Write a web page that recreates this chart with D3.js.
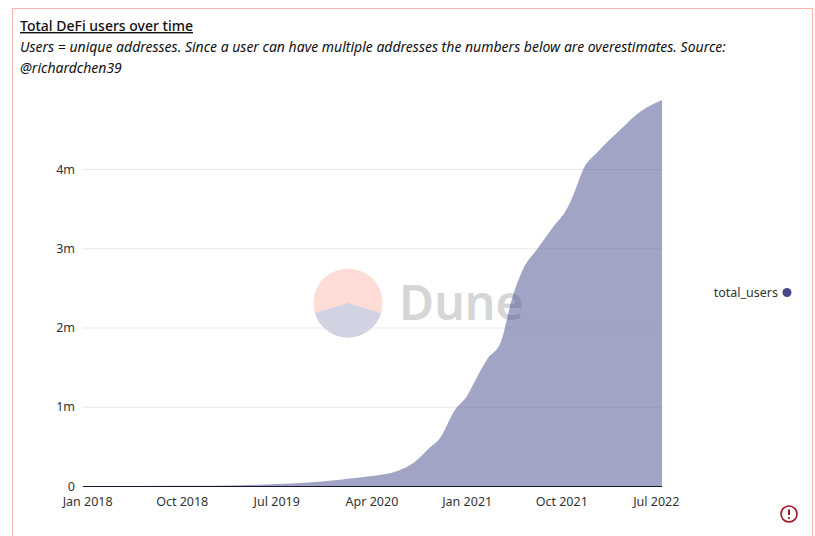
<!DOCTYPE html>
<html>
<head>
<meta charset="utf-8">
<script src="https://cdnjs.cloudflare.com/ajax/libs/d3/7.8.5/d3.min.js"></script>
<style>
  html, body { margin: 0; padding: 0; background: #fff; overflow: hidden; }
  text { font-family: "Noto Sans", sans-serif; }
  .tick line, .domain { display: none; }
  .axis text { font-size: 12.5px; fill: #333; }
</style>
</head>
<body>
<svg id="chart" width="815" height="536"></svg>
<script>
// date / total users in millions
var dates = ["2017-12-20","2018-06-01","2019-01-01","2019-03-15","2019-07-01","2019-10-01","2020-01-01","2020-04-01",
  "2020-06-15","2020-08-03","2020-09-15","2020-10-15","2020-11-28","2021-01-01","2021-02-03","2021-03-01","2021-04-10",
  "2021-05-13","2021-06-12","2021-07-22","2021-09-06","2021-10-19","2021-11-10","2021-12-03","2022-01-13","2022-03-19",
  "2022-05-16","2022-07-19"];
var totalUsers = [0,0.001,0.003,0.008,0.025,0.045,0.08,0.125,
  0.19,0.30,0.48,0.60,0.96,1.13,1.40,1.60,1.82,
  2.38,2.73,2.98,3.26,3.51,3.73,3.99,4.21,4.49,
  4.72,4.87];
var xTickDates = ["2018-01-01","2018-10-01","2019-07-01","2020-04-01","2021-01-01","2021-10-01","2022-07-01"];
var xTickLabels = ["Jan 2018","Oct 2018","Jul 2019","Apr 2020","Jan 2021","Oct 2021","Jul 2022"];
var yTicks = [0,1,2,3,4];
var yTickLabels = ["0","1m","2m","3m","4m"];

var parseDate = d3.timeParse("%Y-%m-%d");
var points = dates.map(function(d, i){ return {date: parseDate(d), users: totalUsers[i]}; });

var svg = d3.select("#chart");

// card border, runs off the bottom of the window
svg.append("rect")
  .attr("x", 12.5).attr("y", 8.5).attr("width", 800).attr("height", 560)
  .attr("fill", "#fff").attr("stroke", "#ffb3ad");

svg.append("text").attr("x", 20).attr("y", 31)
  .style("font-size", "14px").style("font-weight", 500).style("text-decoration", "underline").attr("fill", "#111")
  .text("Total DeFi users over time");
var subtitle = svg.append("text").style("font-size", "14px").style("font-style", "italic").attr("fill", "#111");
subtitle.append("tspan").attr("x", 20).attr("y", 52)
  .text("Users = unique addresses. Since a user can have multiple addresses the numbers below are overestimates. Source:");
subtitle.append("tspan").attr("x", 20).attr("y", 73).text("@richardchen39");

var x = d3.scaleTime().domain([parseDate(dates[0]), parseDate(dates[dates.length - 1])]).range([83, 662]);
var y = d3.scaleLinear().domain([0, 4]).range([486, 169]);

// gridlines
svg.append("g").selectAll("line")
  .data(yTicks.slice(1)).enter().append("line")
  .attr("x1", 83).attr("x2", 662)
  .attr("y1", function(d){ return y(d) + 0.5; })
  .attr("y2", function(d){ return y(d) + 0.5; })
  .attr("stroke", "#e9e9ec");

// watermark
var logo = svg.append("g").attr("transform", "translate(348,303)");
logo.append("circle").attr("r", 34.5).attr("fill", "#ffdcd6");
logo.append("path").attr("d", d3.arc()({innerRadius: 0, outerRadius: 34.5, startAngle: 1.87, endAngle: 4.42}))
  .attr("fill", "#d2d3e2");
svg.append("text").attr("x", 399).attr("y", 320)
  .style("font-size", "48px").style("font-weight", 600).attr("fill", "#d6d6d6").text("Dune");

// area
var area = d3.area()
  .x(function(d){ return x(d.date); })
  .y0(y(0))
  .y1(function(d){ return y(d.users); })
  .curve(d3.curveMonotoneX);
svg.append("path").datum(points).attr("d", area).attr("fill", "#45498c").attr("fill-opacity", 0.5);

// baseline
svg.append("line").attr("x1", 83).attr("x2", 662).attr("y1", 486.5).attr("y2", 486.5)
  .attr("stroke", "#15172e");

// axes
svg.append("g").attr("class", "axis").attr("transform", "translate(0,486)")
  .call(d3.axisBottom(x).tickValues(xTickDates.map(parseDate)).tickSize(0).tickPadding(11)
    .tickFormat(function(d, i){ return xTickLabels[i]; }));
svg.append("g").attr("class", "axis").attr("transform", "translate(83,0)")
  .call(d3.axisLeft(y).tickValues(yTicks).tickSize(0).tickPadding(8)
    .tickFormat(function(d, i){ return yTickLabels[i]; }));

// legend
svg.append("text").attr("x", 778).attr("y", 297).attr("text-anchor", "end")
  .style("font-size", "12.5px").attr("fill", "#333").text("total_users");
svg.append("circle").attr("cx", 787).attr("cy", 292.5).attr("r", 4.5).attr("fill", "#45498c");

// alert icon
var alertIcon = svg.append("g").attr("transform", "translate(789,514)");
alertIcon.append("circle").attr("r", 8).attr("fill", "none").attr("stroke", "#a3121f").attr("stroke-width", 1.6);
alertIcon.append("line").attr("y1", -4.5).attr("y2", 1).attr("stroke", "#a3121f").attr("stroke-width", 2);
alertIcon.append("circle").attr("cy", 4).attr("r", 1.1).attr("fill", "#a3121f");
</script>
</body>
</html>
